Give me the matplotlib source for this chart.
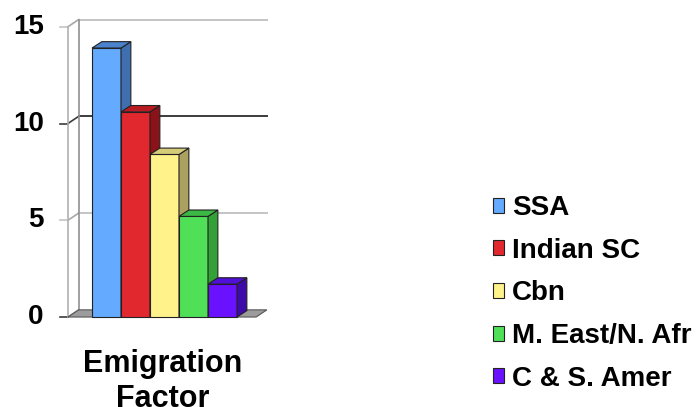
import matplotlib
matplotlib.use("Agg")
import matplotlib.pyplot as plt
from matplotlib.patches import Polygon, Patch

# data
regions = ["SSA", "Indian SC", "Cbn", "M. East/N. Afr", "C & S. Amer"]
values = [13.9, 10.6, 8.4, 5.2, 1.7]
yticks = [0, 5, 10, 15]
xlabel = "Emigration\nFactor"

# colours: front face, side face, top face
front = ["#64aaff", "#e0282e", "#fff28a", "#50e058", "#6a12ff"]
side = ["#3f6fae", "#8a1218", "#aca060", "#33a038", "#3e0aa8"]
top = ["#4a82cc", "#b81c22", "#d6cb78", "#3cb844", "#5010d8"]

plt.rcParams["font.family"] = ["Liberation Sans", "DejaVu Sans"]
plt.rcParams["font.weight"] = "bold"

fig = plt.figure(figsize=(6.97, 4.07), dpi=100)
# axes placed so 1 x-unit = one bar slot, 1 y-unit = one value unit
ax = fig.add_axes([63 / 697, (407 - 326.7) / 407, 208.8 / 697, 319.3 / 407])
ax.set_xlim(-1, 6.2)
ax.set_ylim(-0.5, 16)
ax.axis("off")

# depth offsets (pseudo 3D)
dxw, dyw = 0.37, 0.37     # walls / floor
dxb, dyb = 0.34, 0.33     # bars
x_front = -0.83
x_right = 6.03
x_floor_end = x_right - dxw

# back wall grid lines and left wall
for v in yticks:
    col = "#3c3c3c" if v == 10 else "#c4c4c4"
    if v > 0:
        ax.plot([x_front + dxw, x_right], [v + dyw, v + dyw], color=col, lw=1.4, zorder=1)
    ax.plot([x_front, x_front + dxw], [v, v + dyw], color="#a8a8a8" if v != 10 else col,
            lw=1.2, zorder=1)
    ax.plot([x_front - 0.28, x_front], [v, v], color="#3c3c3c" if v in (0, 10) else "#c4c4c4",
            lw=1.2, zorder=1, clip_on=False)
    ax.text(-1.66, v, str(v), ha="right", va="center", fontsize=20, fontweight="bold",
            clip_on=False)
ax.plot([x_front, x_front], [0, yticks[-1]], color="#b0b0b0", lw=1.2, zorder=1)
ax.plot([x_front + dxw, x_front + dxw], [dyw, yticks[-1] + dyw], color="#909090", lw=1.2, zorder=1)

# floor
floor = Polygon([(x_front, 0), (x_floor_end, 0), (x_right, dyw), (x_front + dxw, dyw)],
                closed=True, facecolor="#9c9c9c", edgecolor="#555555", lw=0.8, zorder=2)
ax.add_patch(floor)

# bars, left to right so each front covers the previous side face
for i, v in enumerate(values):
    z = 3 + i * 3
    ax.bar(i, v, width=1, align="edge", color=front[i], edgecolor="#222222", lw=0.8, zorder=z)
    ax.add_patch(Polygon([(i + 1, 0), (i + 1 + dxb, dyb), (i + 1 + dxb, v + dyb), (i + 1, v)],
                         closed=True, facecolor=side[i], edgecolor="#222222", lw=0.8, zorder=z + 1))
    ax.add_patch(Polygon([(i, v), (i + dxb, v + dyb), (i + 1 + dxb, v + dyb), (i + 1, v)],
                         closed=True, facecolor=top[i], edgecolor="#222222", lw=0.8, zorder=z + 2))

fig.text(163 / 697, 1 - 349 / 407, xlabel, ha="center", va="top", fontsize=22,
         fontweight="bold", linespacing=1.2)

handles = [Patch(facecolor=c, edgecolor="#222222", lw=0.8) for c in front]
fig.legend(handles, regions, loc="upper left", bbox_to_anchor=(493 / 697, 1 - 195 / 407),
           bbox_transform=fig.transFigure, frameon=False,
           prop={"weight": "bold", "size": 20}, handlelength=0.38, handleheight=0.45,
           handletextpad=0.3, labelspacing=0.6, borderpad=0, borderaxespad=0)

fig.savefig("out.png", dpi=100)
